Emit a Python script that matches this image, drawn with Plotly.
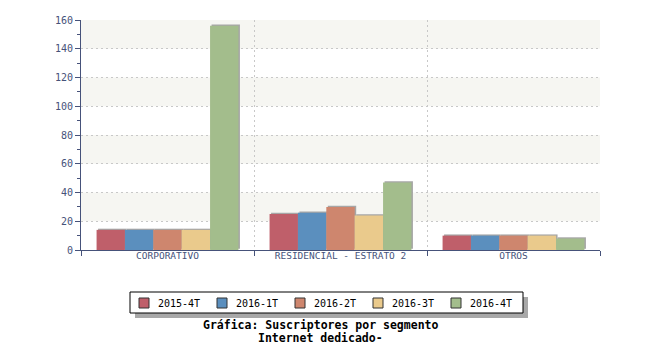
import plotly.graph_objects as go

# Subscriber counts per segment and quarter
categories = ["CORPORATIVO", "RESIDENCIAL - ESTRATO 2", "OTROS"]
quarters = ["2015-4T", "2016-1T", "2016-2T", "2016-3T", "2016-4T"]
serie_2015_4t = [14, 25, 10]
serie_2016_1t = [14, 26, 10]
serie_2016_2t = [14, 30, 10]
serie_2016_3t = [14, 24, 10]
serie_2016_4t = [156, 47, 8]
series = [serie_2015_4t, serie_2016_1t, serie_2016_2t, serie_2016_3t, serie_2016_4t]
colors = ["#BF5F6A", "#5B8FBE", "#CE866E", "#EACA8C", "#A3BD8C"]
y_ticks = [0, 20, 40, 60, 80, 100, 120, 140, 160]

axis_color = "#46527A"
mono = "DejaVu Sans Mono"

# Plot area in pixels (used to place the legend box in paper coordinates)
L, R, T, B = 81, 600, 20, 250
W, H = R - L, B - T


def px_x(x):
    return (x - L) / W


def px_y(y):
    return (B - y) / H


# Grouped bars laid out by hand so each one can carry a small drop shadow
group_width = 0.82
bar_w = group_width / len(series)
shadow_dx = 1.5 * 3 / W          # ~1.5 px to the right
shadow_dy = 1.2 * 160 / H        # ~1.2 px upwards

fig = go.Figure()
for i, vals in enumerate(series):
    off = -group_width / 2 + i * bar_w
    fig.add_trace(go.Bar(
        x=categories, y=vals, base=[shadow_dy] * len(vals),
        offset=off + shadow_dx, width=bar_w,
        marker=dict(color="#A6A6A6", line=dict(width=0)),
        showlegend=False, hoverinfo="skip",
    ))
for i, (name, vals, col) in enumerate(zip(quarters, series, colors)):
    off = -group_width / 2 + i * bar_w
    fig.add_trace(go.Bar(
        x=categories, y=vals, name=name, offset=off, width=bar_w,
        marker=dict(color=col, line=dict(width=0)),
        showlegend=False,
    ))

shapes = []
# Alternating horizontal bands in the plot background
for lo in (20, 60, 100, 140):
    shapes.append(dict(type="rect", xref="paper", yref="y", x0=0, x1=1,
                       y0=lo, y1=lo + 20, fillcolor="#F6F6F2",
                       line=dict(width=0), layer="below"))

# Boxed legend with a drop shadow, below the plot
shapes.append(dict(type="rect", xref="paper", yref="paper",
                   x0=px_x(135), x1=px_x(528), y0=px_y(318), y1=px_y(297),
                   fillcolor="#A8A8A8", line=dict(width=0), layer="above"))
shapes.append(dict(type="rect", xref="paper", yref="paper",
                   x0=px_x(130), x1=px_x(523), y0=px_y(313), y1=px_y(292),
                   fillcolor="white", line=dict(width=1, color="black"),
                   layer="above"))
annotations = []
for i, (name, col) in enumerate(zip(quarters, colors)):
    x0 = 139 + 78 * i
    shapes.append(dict(type="rect", xref="paper", yref="paper",
                       x0=px_x(x0), x1=px_x(x0 + 10),
                       y0=px_y(308), y1=px_y(298),
                       fillcolor=col, line=dict(width=1, color="#333333"),
                       layer="above"))
    annotations.append(dict(text=name, xref="paper", yref="paper",
                            x=px_x(x0 + 17), y=px_y(303.5), showarrow=False,
                            xanchor="left", yanchor="middle",
                            font=dict(family=mono, size=10, color="black")))

annotations += [
    dict(text="<b>Gráfica: Suscriptores por segmento</b>",
         xref="paper", yref="paper", x=px_x(320), y=px_y(324.5),
         showarrow=False, xanchor="center", yanchor="middle",
         font=dict(family=mono, size=11.5, color="black")),
    dict(text="<b>Internet dedicado-</b>",
         xref="paper", yref="paper", x=px_x(320), y=px_y(338),
         showarrow=False, xanchor="center", yanchor="middle",
         font=dict(family=mono, size=11.5, color="black")),
]

fig.update_layout(
    width=650, height=350,
    margin=dict(l=L, r=650 - R, t=T, b=350 - B),
    paper_bgcolor="white", plot_bgcolor="white",
    barmode="overlay",
    showlegend=False,
    shapes=shapes,
    annotations=annotations,
)

fig.update_xaxes(
    range=[-0.5, 2.5], tickson="boundaries",
    showline=True, linecolor=axis_color, linewidth=1,
    ticks="outside", ticklen=5, tickcolor=axis_color,
    ticklabelstandoff=-3,
    showgrid=True, gridcolor="#C8C8C8", griddash="2px,3px", gridwidth=1,
    tickfont=dict(family=mono, size=9.5, color=axis_color),
)
fig.update_yaxes(
    range=[0, 160], tickvals=y_ticks,
    showline=True, linecolor=axis_color, linewidth=1,
    ticks="outside", ticklen=5, tickcolor=axis_color,
    minor=dict(dtick=10, ticks="outside", ticklen=3, tickcolor=axis_color,
               showgrid=False),
    showgrid=True, gridcolor="#C8C8C8", griddash="2px,3px", gridwidth=1,
    zeroline=False,
    tickfont=dict(family=mono, size=10, color=axis_color),
)

fig.write_html("out.html")
